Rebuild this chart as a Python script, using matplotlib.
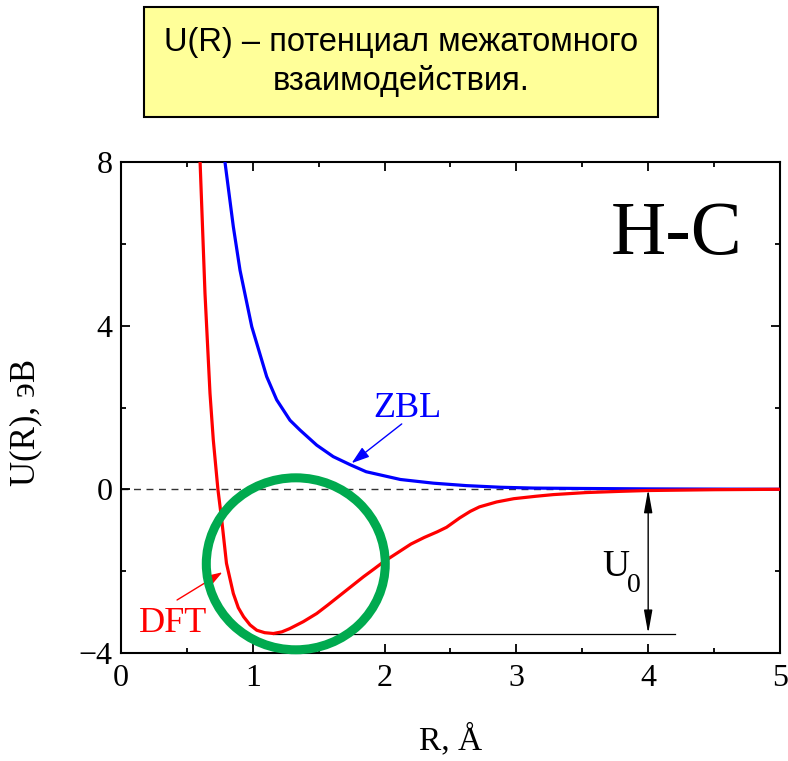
import numpy as np
import matplotlib
matplotlib.use('Agg')
import matplotlib.pyplot as plt
from matplotlib.patches import Ellipse, Rectangle

plt.rcParams['font.family'] = ['Liberation Serif', 'DejaVu Serif']

# DFT potential curve, H-C
dft_r = [0.600, 0.637, 0.675, 0.700, 0.735, 0.764, 0.800, 0.852, 0.890, 0.930,
         0.979, 1.030, 1.090, 1.156, 1.220, 1.280, 1.383, 1.485, 1.570, 1.660,
         1.750, 1.840, 1.920, 1.990, 2.100, 2.200, 2.300, 2.400, 2.470, 2.570,
         2.650, 2.720, 2.850, 2.980, 3.150, 3.280, 3.530, 3.790, 4.000, 4.500, 5.000]
dft_u = [8.00, 4.80, 2.35, 1.21, 0.00, -0.75, -1.81, -2.55, -2.90, -3.12,
         -3.32, -3.45, -3.51, -3.53, -3.49, -3.41, -3.24, -3.04, -2.83, -2.60,
         -2.37, -2.14, -1.95, -1.78, -1.55, -1.34, -1.18, -1.04, -0.93, -0.70,
         -0.54, -0.43, -0.31, -0.23, -0.17, -0.13, -0.08, -0.05, -0.03, -0.01, 0.00]

# ZBL universal potential
zbl_r = [0.789, 0.852, 0.903, 0.992, 1.105, 1.181, 1.282, 1.358, 1.485, 1.610,
         1.740, 1.860, 2.120, 2.370, 2.620, 2.880, 3.130, 3.500, 4.000, 5.000]
zbl_u = [8.00, 6.43, 5.36, 3.98, 2.76, 2.19, 1.69, 1.45, 1.08, 0.80,
         0.60, 0.43, 0.24, 0.15, 0.09, 0.05, 0.03, 0.02, 0.01, 0.00]

u0_depth = -3.53
u0_r = 4.0

fig = plt.figure(figsize=(7.88, 7.61), dpi=100)
ax = fig.add_axes([0.1536, 0.1423, 0.8362, 0.6442])

ax.axhline(0, color='#333333', lw=1.0, ls=(0, (5, 4)), zorder=1)
ax.plot(zbl_r, zbl_u, color='#0000ff', lw=2.3, zorder=3)
ax.plot(dft_r, dft_u, color='#ff0000', lw=2.3, zorder=3)

# depth marker
ax.plot([1.15, 4.2], [u0_depth, u0_depth], color='black', lw=0.9, zorder=2)
ax.annotate('', xy=(u0_r, 0), xytext=(u0_r, u0_depth),
            arrowprops=dict(arrowstyle='<|-|>,head_length=1.0,head_width=0.18',
                            color='black', lw=1.0, shrinkA=0, shrinkB=0,
                            mutation_scale=14))
ax.text(3.654, -2.12, 'U', fontsize=27, ha='left', va='baseline')
ax.text(3.84, -2.507, '0', fontsize=20, ha='left', va='baseline')

# curve labels
ax.text(2.174, 1.76, 'ZBL', color='#0000ff', fontsize=26, ha='center', va='baseline')
ax.annotate('', xy=(1.75, 0.64), xytext=(2.13, 1.60),
            arrowprops=dict(arrowstyle='-|>,head_length=0.9,head_width=0.3',
                            color='#0000ff', lw=1.0, shrinkA=0, shrinkB=0,
                            mutation_scale=12))
ax.text(0.398, -3.485, 'DFT', color='#ff0000', fontsize=26, ha='center', va='baseline')
ax.annotate('', xy=(0.769, -2.03), xytext=(0.425, -2.71),
            arrowprops=dict(arrowstyle='-|>,head_length=0.9,head_width=0.3',
                            color='#ff0000', lw=1.0, shrinkA=0, shrinkB=0,
                            mutation_scale=12))

ax.text(4.216, 6.21, 'H-C', fontsize=55, ha='center', va='center')

ax.add_patch(Ellipse((1.326, -1.824), 1.358, 4.21, fill=False,
                     edgecolor='#00aa4f', lw=6.5, zorder=4, clip_on=False))

ax.set_xlim(0, 5)
ax.set_ylim(-4, 8)
ax.set_xticks([0, 1, 2, 3, 4, 5])
ax.set_xticks(np.arange(0.5, 5, 1.0), minor=True)
ax.set_yticks([-4, 0, 4, 8])
ax.set_yticks([-2, 2, 6], minor=True)
ax.tick_params(which='both', direction='in', top=True, right=True,
               labelsize=23, width=1.3, pad=6)
ax.tick_params(axis='x', which='both', pad=8)
ax.tick_params(which='major', length=6.5)
ax.tick_params(which='minor', length=3.5)
for sp in ax.spines.values():
    sp.set_linewidth(1.5)

ax.set_xlabel('R, Å', fontsize=24, labelpad=22)
ax.set_ylabel('U(R), эВ', fontsize=25)
ax.yaxis.set_label_coords(-0.12, 0.47)

# title box
fig.patches.append(Rectangle((144 / 788, 1 - 117 / 761), 514 / 788, 110 / 761,
                             transform=fig.transFigure, facecolor='#ffff99',
                             edgecolor='black', lw=1.5))
fig.text(401 / 788, 1 - 62 / 761, 'U(R) – потенциал межатомного\nвзаимодействия.',
         fontsize=23.5, family=['Liberation Sans', 'DejaVu Sans'],
         ha='center', va='center', linespacing=1.25)

fig.savefig('out.png', dpi=100)
